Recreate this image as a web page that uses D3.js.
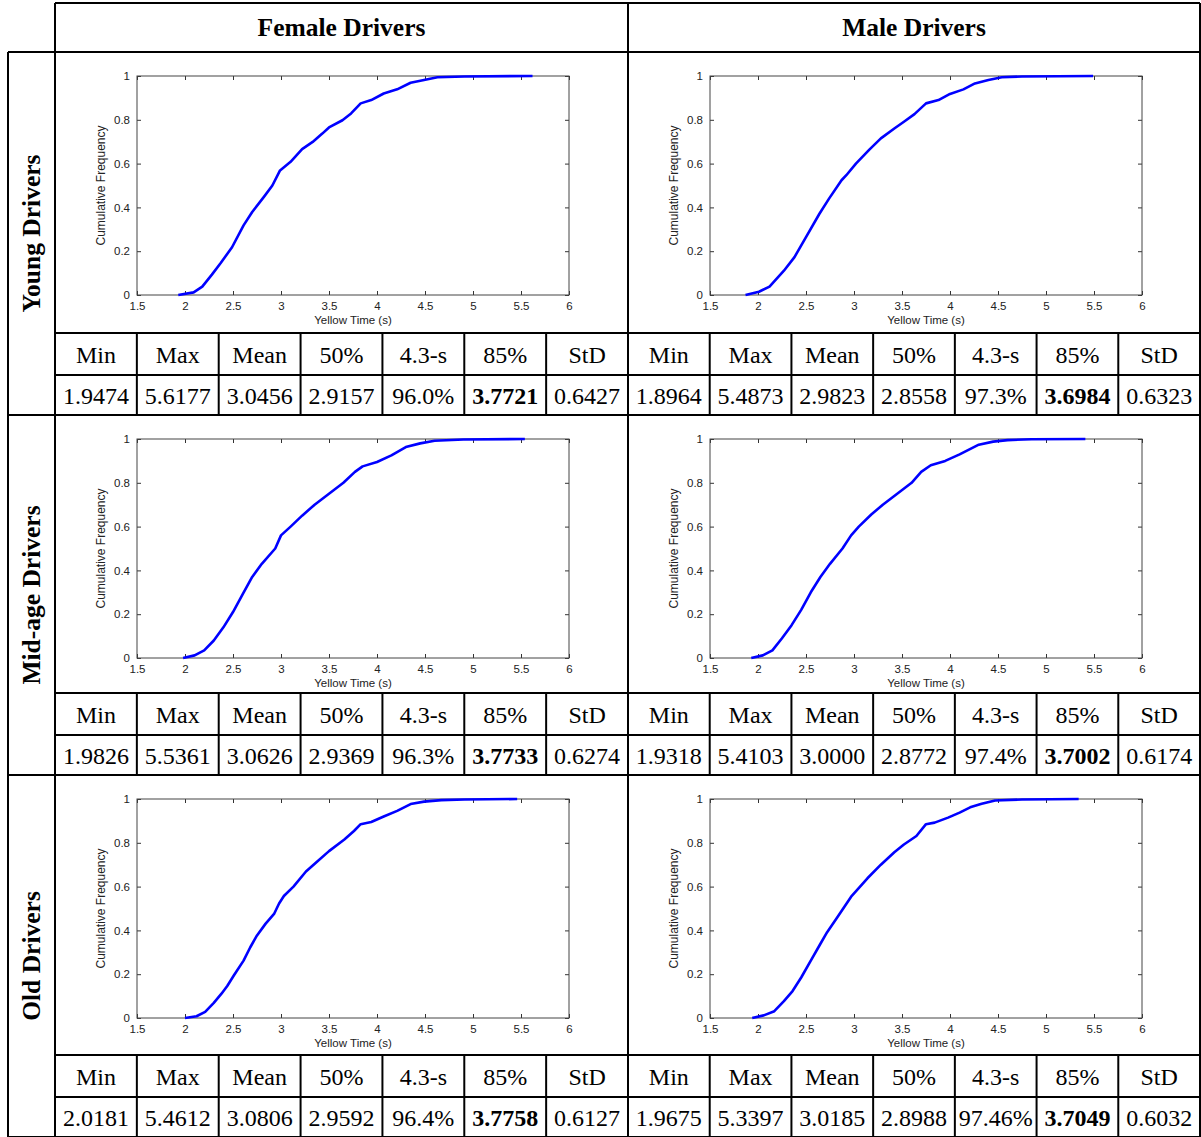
<!DOCTYPE html>
<html>
<head>
<meta charset="utf-8">
<script src="https://cdn.jsdelivr.net/npm/d3@7"></script>
<style>
  html, body { margin: 0; padding: 0; background: #fff; }
  svg { display: block; }
</style>
</head>
<body>
<svg id="chart" width="1201" height="1137"></svg>
<script>
// ---------------- DATA ----------------
const genders = ["Female Drivers", "Male Drivers"];
const ageGroups = ["Young Drivers", "Mid-age Drivers", "Old Drivers"];
const statHeaders = ["Min", "Max", "Mean", "50%", "4.3-s", "85%", "StD"];
const xTicks = [1.5, 2, 2.5, 3, 3.5, 4, 4.5, 5, 5.5, 6];
const yTicks = [0, 0.2, 0.4, 0.6, 0.8, 1];
const xLabel = "Yellow Time (s)";
const yLabel = "Cumulative Frequency";

// summary statistics (as printed)
const youngFemaleStats = ["1.9474", "5.6177", "3.0456", "2.9157", "96.0%", "3.7721", "0.6427"];
const youngMaleStats   = ["1.8964", "5.4873", "2.9823", "2.8558", "97.3%", "3.6984", "0.6323"];
const midFemaleStats   = ["1.9826", "5.5361", "3.0626", "2.9369", "96.3%", "3.7733", "0.6274"];
const midMaleStats     = ["1.9318", "5.4103", "3.0000", "2.8772", "97.4%", "3.7002", "0.6174"];
const oldFemaleStats   = ["2.0181", "5.4612", "3.0806", "2.9592", "96.4%", "3.7758", "0.6127"];
const oldMaleStats     = ["1.9675", "5.3397", "3.0185", "2.8988", "97.46%", "3.7049", "0.6032"];

// cumulative frequency curves (yellow time, cumulative share)
const youngFemaleTime = [1.93, 2.09, 2.18, 2.28, 2.37, 2.49, 2.61, 2.70, 2.82, 2.91, 2.99, 3.10, 3.22, 3.33, 3.43, 3.50, 3.64, 3.73, 3.83, 3.94, 4.07, 4.21, 4.35, 4.49, 4.63, 4.91, 5.62];
const youngFemaleCum  = [0, 0.012, 0.038, 0.093, 0.145, 0.218, 0.318, 0.379, 0.447, 0.50, 0.569, 0.608, 0.666, 0.699, 0.737, 0.765, 0.798, 0.829, 0.875, 0.89, 0.92, 0.939, 0.969, 0.982, 0.994, 0.998, 1];

const youngMaleTime = [1.87, 2.01, 2.12, 2.27, 2.38, 2.50, 2.64, 2.74, 2.87, 2.92, 3.02, 3.16, 3.28, 3.42, 3.52, 3.63, 3.75, 3.88, 4.00, 4.14, 4.26, 4.40, 4.54, 4.75, 5.49];
const youngMaleCum  = [0, 0.015, 0.038, 0.111, 0.173, 0.264, 0.371, 0.44, 0.524, 0.547, 0.60, 0.664, 0.715, 0.76, 0.791, 0.826, 0.875, 0.89, 0.918, 0.939, 0.966, 0.982, 0.994, 0.998, 1];

const midFemaleTime = [1.98, 2.10, 2.20, 2.30, 2.40, 2.50, 2.60, 2.70, 2.80, 2.94, 3.00, 3.10, 3.22, 3.35, 3.50, 3.65, 3.77, 3.85, 4.00, 4.15, 4.30, 4.45, 4.60, 4.90, 5.54];
const midFemaleCum  = [0, 0.012, 0.035, 0.08, 0.14, 0.21, 0.29, 0.37, 0.43, 0.50, 0.56, 0.60, 0.65, 0.70, 0.75, 0.80, 0.85, 0.875, 0.895, 0.925, 0.963, 0.98, 0.992, 0.998, 1];

const midMaleTime = [1.93, 2.05, 2.15, 2.25, 2.35, 2.45, 2.55, 2.65, 2.75, 2.88, 2.97, 3.05, 3.18, 3.30, 3.45, 3.60, 3.70, 3.80, 3.95, 4.10, 4.30, 4.45, 4.60, 4.85, 5.41];
const midMaleCum  = [0, 0.012, 0.035, 0.09, 0.15, 0.22, 0.30, 0.37, 0.43, 0.50, 0.56, 0.60, 0.655, 0.70, 0.75, 0.80, 0.85, 0.88, 0.90, 0.93, 0.974, 0.988, 0.995, 0.999, 1];

const oldFemaleTime = [2.00, 2.12, 2.21, 2.30, 2.38, 2.44, 2.51, 2.61, 2.68, 2.75, 2.84, 2.93, 2.98, 3.03, 3.13, 3.26, 3.36, 3.50, 3.66, 3.76, 3.83, 3.94, 4.07, 4.21, 4.35, 4.49, 4.67, 4.91, 5.46];
const oldFemaleCum  = [0, 0.008, 0.028, 0.069, 0.111, 0.146, 0.195, 0.262, 0.323, 0.377, 0.431, 0.477, 0.523, 0.557, 0.60, 0.669, 0.708, 0.762, 0.815, 0.854, 0.885, 0.895, 0.92, 0.946, 0.977, 0.988, 0.995, 0.998, 1];

const oldMaleTime = [1.94, 2.06, 2.17, 2.27, 2.36, 2.45, 2.55, 2.64, 2.72, 2.83, 2.90, 2.97, 3.04, 3.14, 3.28, 3.42, 3.52, 3.65, 3.75, 3.84, 3.98, 4.10, 4.21, 4.33, 4.47, 4.75, 5.34];
const oldMaleCum  = [0, 0.012, 0.031, 0.077, 0.123, 0.185, 0.262, 0.331, 0.392, 0.462, 0.508, 0.554, 0.588, 0.638, 0.70, 0.757, 0.792, 0.831, 0.885, 0.892, 0.915, 0.938, 0.962, 0.978, 0.993, 0.998, 1];

const panels = [
  [ {t: youngFemaleTime, c: youngFemaleCum, s: youngFemaleStats}, {t: youngMaleTime, c: youngMaleCum, s: youngMaleStats} ],
  [ {t: midFemaleTime, c: midFemaleCum, s: midFemaleStats},       {t: midMaleTime, c: midMaleCum, s: midMaleStats} ],
  [ {t: oldFemaleTime, c: oldFemaleCum, s: oldFemaleStats},       {t: oldMaleTime, c: oldMaleCum, s: oldMaleStats} ]
];

// ---------------- LAYOUT ----------------
const svg = d3.select("#chart");
const colX = [55, 628, 1200];
const rowY = [52, 415, 775, 1137];
const headTop = 3, leftX = 8;
const serif = "'Liberation Serif', serif";
const sans = "'Liberation Sans', sans-serif";

const gGrid = svg.append("g");
const gContent = svg.append("g");

// headers
genders.forEach((g, i) => {
  gContent.append("text")
    .attr("x", (colX[i] + colX[i + 1]) / 2).attr("y", 36)
    .attr("text-anchor", "middle")
    .attr("style", `font-family:${serif};font-weight:bold;font-size:25.5px`)
    .text(g);
});
ageGroups.forEach((a, r) => {
  const cy = (rowY[r] + rowY[r + 1]) / 2;
  gContent.append("text")
    .attr("transform", `translate(40,${cy}) rotate(-90)`)
    .attr("text-anchor", "middle")
    .attr("style", `font-family:${serif};font-weight:bold;font-size:25.5px`)
    .text(a);
});

const tblHeadH = 42, tblDataH = 40;

panels.forEach((row, r) => {
  row.forEach((p, g) => {
    const cx0 = colX[g], cx1 = colX[g + 1];
    const ry0 = rowY[r], ry1 = rowY[r + 1];
    const tableTop = ry1 - tblHeadH - tblDataH;

    // ---- chart ----
    const left = cx0 + 82, width = 432;
    const top = ry0 + 24, height = 219;
    const x = d3.scaleLinear().domain([1.5, 6]).range([left, left + width]);
    const y = d3.scaleLinear().domain([0, 1]).range([top + height, top]);
    const ax = gContent.append("g");
    const axisStyle = sel => {
      sel.select(".domain").remove();
      sel.selectAll(".tick line").attr("stroke", "#333").attr("stroke-width", 1);
      sel.selectAll("text").attr("style", `font-family:${sans};font-size:11.5px`).attr("fill", "#222");
    };
    ax.append("g").attr("transform", `translate(0,${top + height})`)
      .call(d3.axisBottom(x).tickValues(xTicks).tickSizeInner(-4).tickSizeOuter(0).tickPadding(7).tickFormat(d => String(d)))
      .call(axisStyle);
    ax.append("g").attr("transform", `translate(0,${top})`)
      .call(d3.axisTop(x).tickValues(xTicks).tickSizeInner(-4).tickSizeOuter(0).tickFormat(""))
      .call(axisStyle);
    ax.append("g").attr("transform", `translate(${left},0)`)
      .call(d3.axisLeft(y).tickValues(yTicks).tickSizeInner(-4).tickSizeOuter(0).tickPadding(7).tickFormat(d => String(d)))
      .call(axisStyle);
    ax.append("g").attr("transform", `translate(${left + width},0)`)
      .call(d3.axisRight(y).tickValues(yTicks).tickSizeInner(-4).tickSizeOuter(0).tickFormat(""))
      .call(axisStyle);
    ax.append("rect").attr("x", left).attr("y", top).attr("width", width).attr("height", height)
      .attr("fill", "none").attr("stroke", "#444").attr("stroke-width", 1);

    const pts = p.t.map((t, i) => [t, p.c[i]]);
    gContent.append("path").datum(pts)
      .attr("d", d3.line().x(d => x(d[0])).y(d => y(d[1])))
      .attr("fill", "none").attr("stroke", "#0000ff").attr("stroke-width", 2.6)
      .attr("stroke-linejoin", "round");

    gContent.append("text")
      .attr("x", left + width / 2).attr("y", top + height + 29)
      .attr("text-anchor", "middle").attr("style", `font-family:${sans};font-size:11.5px`).attr("fill", "#222")
      .text(xLabel);
    gContent.append("text")
      .attr("transform", `translate(${left - 32},${top + height / 2}) rotate(-90)`)
      .attr("text-anchor", "middle").attr("style", `font-family:${sans};font-size:12px`).attr("fill", "#222")
      .text(yLabel);

    // ---- table ----
    const band = d3.scaleBand().domain(statHeaders).range([cx0, cx1]);
    statHeaders.forEach((h, i) => {
      const cx = band(h) + band.bandwidth() / 2;
      gContent.append("text")
        .attr("x", cx).attr("y", tableTop + tblHeadH / 2 + 8.5)
        .attr("text-anchor", "middle")
        .attr("style", `font-family:${serif};font-size:24px`)
        .text(h);
      gContent.append("text")
        .attr("x", cx).attr("y", tableTop + tblHeadH + tblDataH / 2 + 8.5)
        .attr("text-anchor", "middle")
        .attr("style", `font-family:${serif};font-size:24px;font-weight:${h === "85%" ? "bold" : "normal"}`)
        .text(p.s[i]);
      if (i > 0) {
        gGrid.append("line").attr("x1", band(h)).attr("x2", band(h))
          .attr("y1", tableTop).attr("y2", ry1);
      }
    });
    gGrid.append("line").attr("x1", cx0).attr("x2", cx1).attr("y1", tableTop).attr("y2", tableTop);
    gGrid.append("line").attr("x1", cx0).attr("x2", cx1).attr("y1", tableTop + tblHeadH).attr("y2", tableTop + tblHeadH);
  });
});

// outer grid
gGrid.append("line").attr("x1", colX[0]).attr("x2", colX[2]).attr("y1", headTop).attr("y2", headTop);
rowY.forEach(yy => {
  gGrid.append("line").attr("x1", leftX).attr("x2", colX[2]).attr("y1", yy).attr("y2", yy);
});
gGrid.append("line").attr("x1", leftX).attr("x2", leftX).attr("y1", rowY[0]).attr("y2", rowY[3]);
colX.forEach(xx => {
  gGrid.append("line").attr("x1", xx).attr("x2", xx).attr("y1", headTop).attr("y2", rowY[3]);
});
gGrid.selectAll("line").attr("stroke", "#000").attr("stroke-width", 2);
</script>
</body>
</html>
